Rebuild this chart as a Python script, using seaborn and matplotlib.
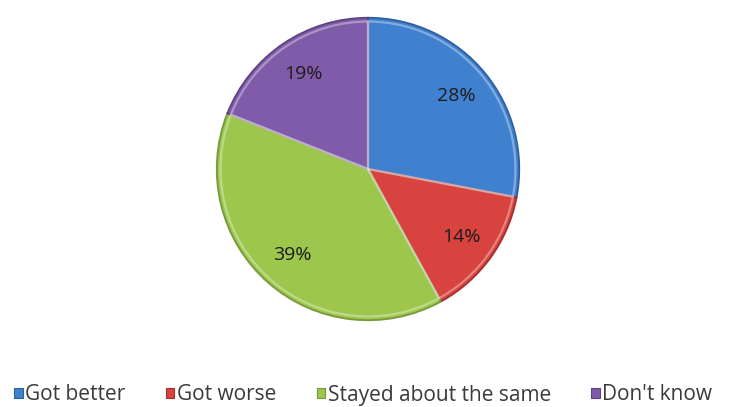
import matplotlib
matplotlib.use("Agg")
import matplotlib.pyplot as plt
import seaborn as sns
from matplotlib.patches import Rectangle

categories = ["Got better", "Got worse", "Stayed about the same", "Don't know"]
shares = [28, 14, 39, 19]
colors = ["#3f80cf", "#d8433f", "#9cc64c", "#7f5ba9"]
edge_colors = ["#2d5f9e", "#a3302d", "#76993a", "#5e4282"]

sns.set_theme(style="white")
plt.rcParams["font.family"] = ["Open Sans", "DejaVu Sans"]

fig = plt.figure(figsize=(7.29, 4.07), dpi=100)
fig.patch.set_facecolor("white")

# pie axes: centre at (368, 169) px, radius 152 px
W, H = 729, 407
cx, cy, r = 368, 169, 152
ax = fig.add_axes([(cx - r) / W, (H - cy - r) / H, 2 * r / W, 2 * r / H])

wedges, texts, autotexts = ax.pie(
    shares,
    colors=colors,
    startangle=90,
    counterclock=False,
    radius=1.0,
    autopct=lambda p: f"{p:.0f}%",
    pctdistance=0.76,
    wedgeprops=dict(linewidth=1.3),
    textprops=dict(fontsize=14, color="#1c1c1c"),
)
for w, ec in zip(wedges, edge_colors):
    w.set_edgecolor(ec)

# subtle inner highlight along the rim for the bevelled look
ax.pie(
    shares,
    colors=["none"] * len(shares),
    startangle=90,
    counterclock=False,
    radius=0.975,
    wedgeprops=dict(linewidth=1.6, edgecolor=(1, 1, 1, 0.35), fill=False),
)

ax.set_xlim(-1.005, 1.005)
ax.set_ylim(-1.005, 1.005)
ax.set_aspect("equal")
ax.axis("off")

handles = [Rectangle((0, 0), 1, 1, facecolor=c, edgecolor=e, linewidth=0.8)
           for c, e in zip(colors, edge_colors)]
fig.legend(
    handles, categories,
    loc="center left", bbox_to_anchor=(10 / W, 12 / H),
    ncol=4, frameon=False, fontsize=15,
    handlelength=0.4, handleheight=0.4, handletextpad=0.12,
    columnspacing=1.95, labelcolor="#3a3a3a",
    borderaxespad=0, borderpad=0.2,
)

fig.savefig("out.png", dpi=100, facecolor="white")
